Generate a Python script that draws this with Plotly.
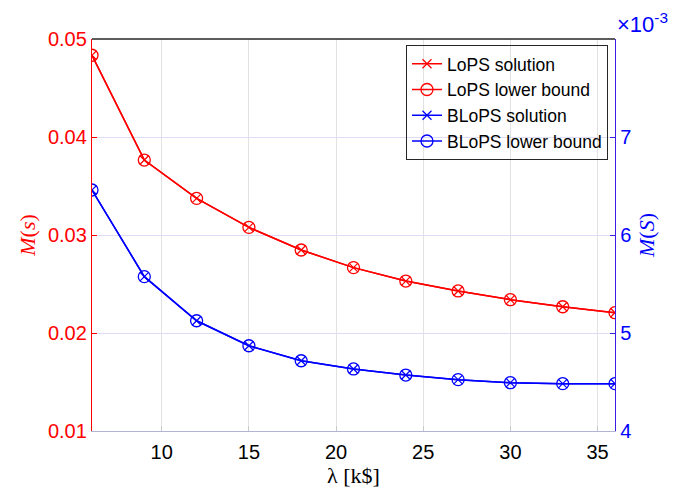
import plotly.graph_objects as go

# Data
lam = [6, 9, 12, 15, 18, 21, 24, 27, 30, 33, 36]
lops_solution = [0.04834, 0.03765, 0.03374, 0.03078, 0.02847, 0.02667, 0.02530, 0.02429, 0.02340, 0.02268, 0.02207]
lops_lower_bound = [0.04834, 0.03765, 0.03374, 0.03078, 0.02847, 0.02667, 0.02530, 0.02429, 0.02340, 0.02268, 0.02207]
blops_solution = [0.006459, 0.005575, 0.005125, 0.004870, 0.004717, 0.004633, 0.004571, 0.004524, 0.004493, 0.004483, 0.004483]
blops_lower_bound = [0.006459, 0.005575, 0.005125, 0.004870, 0.004717, 0.004633, 0.004571, 0.004524, 0.004493, 0.004483, 0.004483]

x_ticks = [10, 15, 20, 25, 30, 35]
left_ticks = [0.01, 0.02, 0.03, 0.04, 0.05]
right_ticks = [0.004, 0.005, 0.006, 0.007]
right_tick_text = ["4", "5", "6", "7"]

RED = "#ff0000"
BLUE = "#0000ff"
SANS = "Liberation Sans, Arial, sans-serif"
SERIF = "Liberation Serif, Times New Roman, serif"

fig = go.Figure()
fig.add_trace(go.Scatter(x=lam, y=lops_solution, name="LoPS solution", mode="lines+markers",
                         line=dict(color=RED, width=1.5),
                         marker=dict(symbol="x-thin-open", size=9, color=RED, line=dict(color=RED, width=1.2)),
                         yaxis="y"))
fig.add_trace(go.Scatter(x=lam, y=lops_lower_bound, name="LoPS lower bound", mode="lines+markers",
                         line=dict(color=RED, width=1.5),
                         marker=dict(symbol="circle-open", size=12, color=RED, line=dict(color=RED, width=1.3)),
                         yaxis="y"))
fig.add_trace(go.Scatter(x=lam, y=blops_solution, name="BLoPS solution", mode="lines+markers",
                         line=dict(color=BLUE, width=1.5),
                         marker=dict(symbol="x-thin-open", size=9, color=BLUE, line=dict(color=BLUE, width=1.2)),
                         yaxis="y2"))
fig.add_trace(go.Scatter(x=lam, y=blops_lower_bound, name="BLoPS lower bound", mode="lines+markers",
                         line=dict(color=BLUE, width=1.5),
                         marker=dict(symbol="circle-open", size=12, color=BLUE, line=dict(color=BLUE, width=1.3)),
                         yaxis="y2"))

fig.update_layout(
    width=692, height=492,
    margin=dict(l=92, r=77, t=39, b=61, autoexpand=False),
    paper_bgcolor="white", plot_bgcolor="white",
    font=dict(family=SANS, size=20, color="black"),
    xaxis=dict(range=[6, 36], tickvals=x_ticks, ticks="inside", ticklen=5, tickcolor="#c8c8c8",
               showgrid=True, gridcolor="#e2e2e2", gridwidth=1.3, zeroline=False,
               showline=True, linecolor="#b4b4d6", linewidth=1.3, ticklabelstandoff=3,
               tickfont=dict(family=SANS, size=20, color="black"),
               title=dict(text="λ [k$]", font=dict(family=SERIF, size=22, color="black"), standoff=0)),
    yaxis=dict(range=[0.01, 0.05], tickvals=left_ticks, tickformat=".2f", ticks="inside", ticklen=5,
               tickcolor=RED, showgrid=True, gridcolor="#dedcf6", gridwidth=1.3, zeroline=False,
               showline=True, linecolor=RED, linewidth=1.3,
               tickfont=dict(family=SANS, size=20, color=RED),
               title=dict(text="<i>M</i>(<i>s</i>)", font=dict(family=SERIF, size=22, color=RED), standoff=6)),
    yaxis2=dict(range=[0.004, 0.008], tickvals=right_ticks, ticktext=right_tick_text, overlaying="y",
                side="right", ticks="inside", ticklen=5, tickcolor="#3a1ee8", showgrid=False, zeroline=False,
                showline=True, linecolor="#3a1ee8", linewidth=1.3,
                tickfont=dict(family=SANS, size=20, color=BLUE),
                title=dict(text="<i>M</i>(<i>S</i>)", font=dict(family=SERIF, size=22, color=BLUE), standoff=8)),
    legend=dict(x=0.9866, xanchor="right", y=0.985, yanchor="top",
                bgcolor="rgba(255,255,255,0)", bordercolor="#262626", borderwidth=1,
                font=dict(family=SANS, size=17.5, color="black"), tracegroupgap=0, itemwidth=30),
    showlegend=True,
)

fig.add_shape(type="line", xref="paper", yref="paper", x0=0, x1=1, y0=1, y1=1,
              line=dict(color="#262626", width=1.3))

fig.add_annotation(text="×10<sup>-3</sup>", xref="paper", yref="paper", x=1.0, y=1.0,
                   xanchor="left", yanchor="bottom", showarrow=False,
                   font=dict(family=SANS, size=22, color=BLUE))

fig.write_html("out.html", config={"displayModeBar": False},
               post_script="document.body.style.margin='0';")
